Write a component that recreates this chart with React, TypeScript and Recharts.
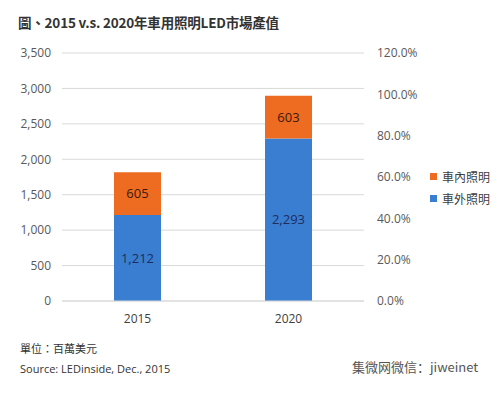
import React from 'react';
import { ComposedChart, Bar, Line, XAxis, YAxis, CartesianGrid, LabelList } from 'recharts';

const categories = ['2015', '2020'];
const exterior = [1212, 2293];
const interior = [605, 603];
const leftTicks = [0, 500, 1000, 1500, 2000, 2500, 3000, 3500];
const rightTicks = [0, 0.2, 0.4, 0.6, 0.8, 1.0, 1.2];

const data = categories.map((c, i) => ({ year: c, ext: exterior[i], int: interior[i] }));

const BLUE = '#3A7ED2';
const ORANGE = '#EE6B22';
const FONT = '"Open Sans", "Noto Sans CJK TC", sans-serif';

const fmt = (v: number) => v.toLocaleString('en-US');

const legendItems = [
  { name: '車內照明', color: ORANGE },
  { name: '車外照明', color: BLUE },
];

export default function App() {
  return (
    <div style={{ position: 'absolute', left: 0, top: 0, width: 500, height: 397, background: '#fff', fontFamily: FONT }}>
      <div style={{ position: 'absolute', left: 18, top: 12, fontSize: 13.5, fontWeight: 'bold', color: '#333', fontFamily: '"Noto Sans CJK TC", sans-serif', letterSpacing: -0.2 }}>
        圖、2015 v.s. 2020年車用照明LED市場產值
      </div>
      <ComposedChart width={500} height={397} data={data} margin={{ top: 53, right: 0, bottom: 66, left: 0 }} barCategoryGap={52}>
        <CartesianGrid vertical={false} stroke="#d9d9d9" yAxisId="left" />
        <XAxis dataKey="year" height={30} tickLine={false} axisLine={{ stroke: '#d9d9d9' }} tickSize={0} tickMargin={13} tick={{ fill: '#404040', fontSize: 12, fontFamily: FONT }} />
        <YAxis yAxisId="left" width={62} domain={[0, 3500]} ticks={leftTicks} tickFormatter={fmt} axisLine={false} tickLine={false} tickSize={0} tickMargin={11} tick={{ fill: '#595959', fontSize: 12, fontFamily: FONT }} />
        <YAxis yAxisId="right" type="number" orientation="right" width={136} domain={[0, 1.2]} allowDataOverflow ticks={rightTicks} tickFormatter={(v: number) => (v * 100).toFixed(1) + '%'} axisLine={false} tickLine={false} tickSize={0} tickMargin={13} tick={{ fill: '#595959', fontSize: 12, fontFamily: FONT }} />
        <Bar yAxisId="left" dataKey="ext" stackId="a" fill={BLUE} isAnimationActive={false} name="車外照明">
          <LabelList dataKey="ext" position="center" formatter={(v: any) => fmt(Number(v))} fill="#1F2D5C" fontSize={13} fontFamily={FONT} />
        </Bar>
        <Bar yAxisId="left" dataKey="int" stackId="a" fill={ORANGE} isAnimationActive={false} name="車內照明">
          <LabelList dataKey="int" position="center" formatter={(v: any) => fmt(Number(v))} fill="#3A1A10" fontSize={13} fontFamily={FONT} />
        </Bar>
        <Line yAxisId="right" dataKey="pct" stroke="none" dot={false} activeDot={false} isAnimationActive={false} legendType="none" />
      </ComposedChart>
      <div style={{ position: 'absolute', left: 430, top: 165, fontFamily: '"Noto Sans CJK TC", sans-serif', fontSize: 12, color: '#404040' }}>
        {legendItems.map((it) => (
          <div key={it.name} style={{ display: 'flex', alignItems: 'center', height: 22 }}>
            <span style={{ display: 'inline-block', width: 7, height: 7, background: it.color, marginRight: 5 }} />
            <span>{it.name}</span>
          </div>
        ))}
      </div>
      <div style={{ position: 'absolute', left: 20, top: 340, fontSize: 11, color: '#333', fontFamily: '"Noto Sans CJK TC", sans-serif' }}>單位：百萬美元</div>
      <div style={{ position: 'absolute', left: 20, top: 361, fontSize: 11, color: '#333', fontFamily: FONT }}>Source: LEDinside, Dec., 2015</div>
      <div style={{ position: 'absolute', left: 352, top: 357, fontSize: 13, color: '#555', fontFamily: '"Noto Sans CJK SC", sans-serif' }}>集微网微信：jiweinet</div>
    </div>
  );
}
